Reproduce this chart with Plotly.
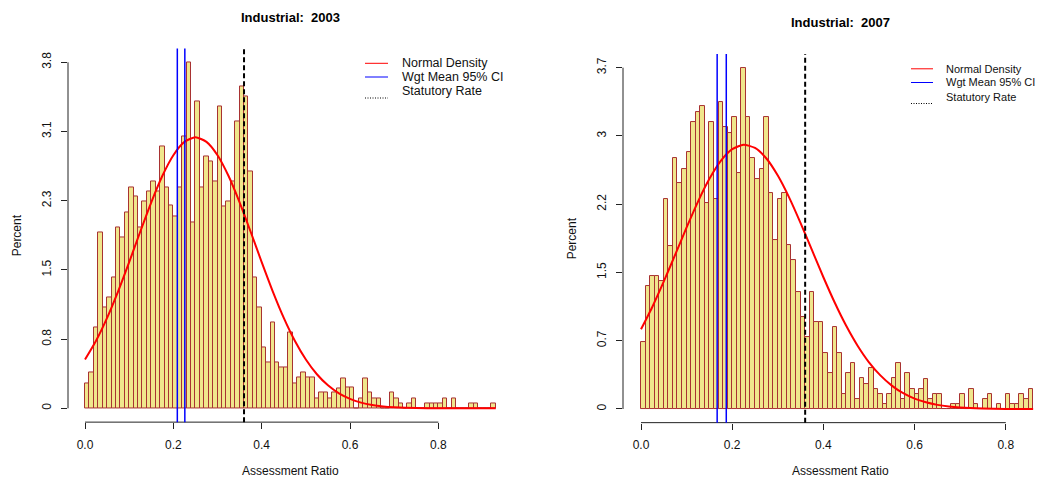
import numpy as np
import plotly.graph_objects as go

# ---------------- data ----------------
bin_width = 0.01

pct_2003 = [0.28, 0.40, 0.90, 1.95, 1.12, 1.23, 1.45, 2.00, 1.89, 2.17,
            2.45, 2.34, 2.00, 2.29, 2.40, 2.51, 2.40, 2.90, 2.45, 2.25,
            2.12, 2.45, 3.01, 3.83, 2.06, 3.40, 2.45, 2.79, 2.73, 2.51,
            3.34, 2.23, 2.29, 2.51, 3.18, 3.56, 3.45, 2.62, 1.45, 1.12,
            0.67, 0.51, 0.95, 0.51, 0.45, 0.45, 0.84, 0.28, 0.34, 0.40,
            0.34, 0.34, 0.11, 0.17, 0.17, 0.11, 0.17, 0.22, 0.33, 0.23,
            0.23, 0.00, 0.11, 0.33, 0.17, 0.11, 0.11, 0.00, 0.00, 0.17,
            0.11, 0.055, 0.00, 0.055, 0.11, 0.00, 0.00, 0.055, 0.055, 0.055,
            0.055, 0.11, 0.00, 0.11, 0.00, 0.00, 0.00, 0.055, 0.055, 0.00,
            0.00, 0.00, 0.055]

pct_2007 = [0.73, 1.34, 1.45, 1.45, 1.40, 2.29, 1.78, 2.74, 2.46, 2.62,
            2.80, 3.13, 3.24, 3.30, 2.24, 3.13, 2.29, 3.35, 3.07, 3.01,
            3.18, 2.57, 3.72, 3.18, 2.74, 2.51, 2.62, 3.18, 2.35, 1.84,
            2.29, 2.35, 1.79, 1.62, 1.28, 1.00, 0.78, 1.28, 0.95, 0.95,
            0.61, 0.39, 0.89, 0.61, 0.165, 0.39, 0.50, 0.11, 0.34, 0.27,
            0.45, 0.22, 0.165, 0.055, 0.165, 0.34, 0.50, 0.11, 0.39, 0.22,
            0.165, 0.22, 0.33, 0.11, 0.165, 0.165, 0.00, 0.00, 0.055, 0.055,
            0.165, 0.00, 0.22, 0.055, 0.00, 0.11, 0.165, 0.00, 0.055, 0.00,
            0.165, 0.055, 0.055, 0.165, 0.11, 0.22]

# normal density curves
curve_x_2003 = [0.0, 0.025, 0.05, 0.075, 0.1, 0.125, 0.15, 0.175, 0.2, 0.225,
                0.25, 0.275, 0.3, 0.325, 0.35, 0.375, 0.4, 0.425, 0.45, 0.475,
                0.5, 0.525, 0.55, 0.575, 0.6, 0.625, 0.65, 0.675, 0.7, 0.75,
                0.8, 0.85, 0.93]
curve_y_2003 = [0.540, 0.748, 1.001, 1.295, 1.618, 1.954, 2.280, 2.571, 2.801, 2.949,
                3.000, 2.949, 2.801, 2.571, 2.280, 1.954, 1.618, 1.295, 1.001, 0.748,
                0.540, 0.377, 0.254, 0.165, 0.104, 0.063, 0.037, 0.021, 0.012, 0.003,
                0.001, 0.000, 0.000]

curve_x_2007 = [0.0, 0.025, 0.05, 0.075, 0.1, 0.125, 0.15, 0.175, 0.2, 0.225,
                0.25, 0.275, 0.3, 0.325, 0.35, 0.375, 0.4, 0.425, 0.45, 0.475,
                0.5, 0.525, 0.55, 0.575, 0.6, 0.625, 0.65, 0.675, 0.7, 0.75,
                0.8, 0.86]
curve_y_2007 = [0.869, 1.115, 1.390, 1.683, 1.979, 2.261, 2.509, 2.705, 2.832, 2.880,
                2.845, 2.730, 2.544, 2.304, 2.026, 1.731, 1.436, 1.158, 0.907, 0.690,
                0.509, 0.366, 0.255, 0.172, 0.113, 0.073, 0.045, 0.027, 0.016, 0.005,
                0.001, 0.000]

ci_2003 = [0.209, 0.226]
ci_2007 = [0.167, 0.187]
statutory_rate = 0.36

x_tickvals = [0.0, 0.2, 0.4, 0.6, 0.8]
x_ticktext = ["0.0", "0.2", "0.4", "0.6", "0.8"]
y_ticktext_2003 = ["0", "0.8", "1.5", "2.3", "3.1", "3.8"]
y_ticktext_2007 = ["0", "0.7", "1.5", "2.2", "3", "3.7"]

titles = ["Industrial:\u00a0 2003", "Industrial:\u00a0 2007"]
legend_labels = ["Normal Density", "Wgt Mean 95% CI", "Statutory Rate"]

# ---------------- styling / layout helpers ----------------
PAGE_W, PAGE_H = 1044, 479
OFF = 8                      # default page margin around the plot div
W, H = PAGE_W - OFF, PAGE_H - OFF
FONT = "Liberation Sans, Arial, Helvetica, sans-serif"
BAR_FILL = "#F0E68C"
BAR_LINE = "#A83232"


def px(x):
    return (x - OFF) / W


def py(y):
    return 1 - (y - OFF) / H


fig = go.Figure()

panels = [
    dict(pct=pct_2003, cx=curve_x_2003, cy=curve_y_2003, ci=ci_2003,
         yt=y_ticktext_2003, xa="x", ya="y",
         xdom=(68, 512), xr=(-0.0385, 0.9667), base_px=408.3, ppu=90.34,
         title=titles[0], cxp=290, title_y=18, leg_x=365, leg_top=48.5,
         leg_font=12.5, leg_gap=35, leg_len=23),
    dict(pct=pct_2007, cx=curve_x_2007, cy=curve_y_2007, ci=ci_2007,
         yt=y_ticktext_2007, xa="x2", ya="y2",
         xdom=(623, 1044), xr=(-0.0395, 0.8838), base_px=409.0, ppu=91.75,
         title=titles[1], cxp=840, title_y=23, leg_x=911, leg_top=54,
         leg_font=11, leg_gap=33, leg_len=22),
]

shapes = []
annotations = []
layout_axes = {}

for i, p in enumerate(panels):
    pct = np.array(p["pct"])
    centers = np.arange(len(pct)) * bin_width + bin_width / 2
    ymax = pct.max()
    yr = (-0.04 * ymax, 1.04 * ymax)
    top_px = p["base_px"] - yr[1] * p["ppu"]
    bot_px = p["base_px"] - yr[0] * p["ppu"]

    fig.add_trace(go.Bar(
        x=centers, y=pct, width=bin_width,
        marker=dict(color=BAR_FILL, line=dict(color=BAR_LINE, width=1)),
        xaxis=p["xa"], yaxis=p["ya"], showlegend=False, hoverinfo="skip"))

    fig.add_trace(go.Scatter(
        x=p["cx"], y=p["cy"], mode="lines",
        line=dict(color="#FF0000", width=2, shape="spline", smoothing=0.6),
        xaxis=p["xa"], yaxis=p["ya"], showlegend=False, hoverinfo="skip"))

    xa_name = "xaxis" if i == 0 else "xaxis2"
    ya_name = "yaxis" if i == 0 else "yaxis2"
    ytickvals = list(np.linspace(0, ymax, 6))

    layout_axes[xa_name] = dict(
        domain=[px(p["xdom"][0]), min(1.0, px(p["xdom"][1]))], range=list(p["xr"]),
        anchor=p["ya"], tickvals=x_tickvals, ticktext=x_ticktext,
        ticks="outside", ticklen=6, tickcolor="#222", tickwidth=1,
        ticklabelstandoff=5,
        showgrid=False, zeroline=False, showline=False,
        tickfont=dict(family=FONT, size=12, color="#111"))
    layout_axes[ya_name] = dict(
        domain=[py(bot_px), py(top_px)], range=list(yr),
        anchor=p["xa"], tickvals=ytickvals, ticktext=p["yt"],
        ticks="outside", ticklen=6, tickcolor="#222", tickwidth=1,
        ticklabelstandoff=5,
        tickangle=-90, showgrid=False, zeroline=False, showline=False,
        tickfont=dict(family=FONT, size=12, color="#111"))

    xref = p["xa"]
    yref = p["ya"]
    # R-style axis lines spanning only the ticks
    shapes.append(dict(type="line", xref=xref, yref=yref + " domain",
                       x0=x_tickvals[0], x1=x_tickvals[-1], y0=0, y1=0,
                       line=dict(color="#222", width=1), layer="above"))
    shapes.append(dict(type="line", xref=xref + " domain", yref=yref,
                       x0=0, x1=0, y0=0, y1=ymax,
                       line=dict(color="#222", width=1), layer="above"))
    # CI lines
    for v in p["ci"]:
        shapes.append(dict(type="line", xref=xref, yref=yref + " domain",
                           x0=v, x1=v, y0=0, y1=1,
                           line=dict(color="#0000FF", width=1.5), layer="above"))
    # statutory rate
    shapes.append(dict(type="line", xref=xref, yref=yref + " domain",
                       x0=statutory_rate, x1=statutory_rate, y0=0, y1=1,
                       line=dict(color="#000000", width=2, dash="5px,3px"),
                       layer="above"))

    # title
    annotations.append(dict(text="<b>%s</b>" % p["title"], x=px(p["cxp"]),
                            y=py(p["title_y"]), xref="paper", yref="paper",
                            showarrow=False, xanchor="center", yanchor="middle",
                            font=dict(family=FONT, size=13, color="#000")))
    # x axis title
    annotations.append(dict(text="Assessment Ratio", x=px(p["cxp"]), y=py(471),
                            xref="paper", yref="paper", showarrow=False,
                            xanchor="center", yanchor="middle",
                            font=dict(family=FONT, size=12, color="#111")))
    # y axis title
    annotations.append(dict(text="Percent", x=px(p["xdom"][0] - 51),
                            y=py((top_px + bot_px) / 2), xref="paper", yref="paper",
                            showarrow=False, textangle=-90,
                            xanchor="center", yanchor="middle",
                            font=dict(family=FONT, size=12, color="#111")))

    # legend (bty = "n")
    lx0, lx1 = p["leg_x"], p["leg_x"] + p["leg_len"]
    tx = p["leg_x"] + p["leg_gap"]
    rows = [p["leg_top"] + 14.8, p["leg_top"] + 28.5, p["leg_top"] + 43]
    leg_lines = [(rows[0], dict(color="#FF0000", width=1)),
                 (rows[1], dict(color="#0000FF", width=1)),
                 (rows[2] + 6.5, dict(color="#000000", width=1, dash="1px,1.5px"))]
    for (ly, ln) in leg_lines:
        shapes.append(dict(type="line", xref="paper", yref="paper",
                           x0=px(lx0), x1=px(lx1), y0=py(ly), y1=py(ly), line=ln))
    for lbl, ry in zip(legend_labels, rows):
        annotations.append(dict(text=lbl, x=px(tx), y=py(ry), xref="paper",
                                yref="paper", showarrow=False, xanchor="left",
                                yanchor="middle",
                                font=dict(family=FONT, size=p["leg_font"],
                                          color="#111")))

fig.update_layout(
    width=W, height=H, margin=dict(l=0, r=0, t=0, b=0),
    paper_bgcolor="white", plot_bgcolor="white",
    bargap=0, showlegend=False,
    shapes=shapes, annotations=annotations,
    **layout_axes)

fig.write_html("out.html")
